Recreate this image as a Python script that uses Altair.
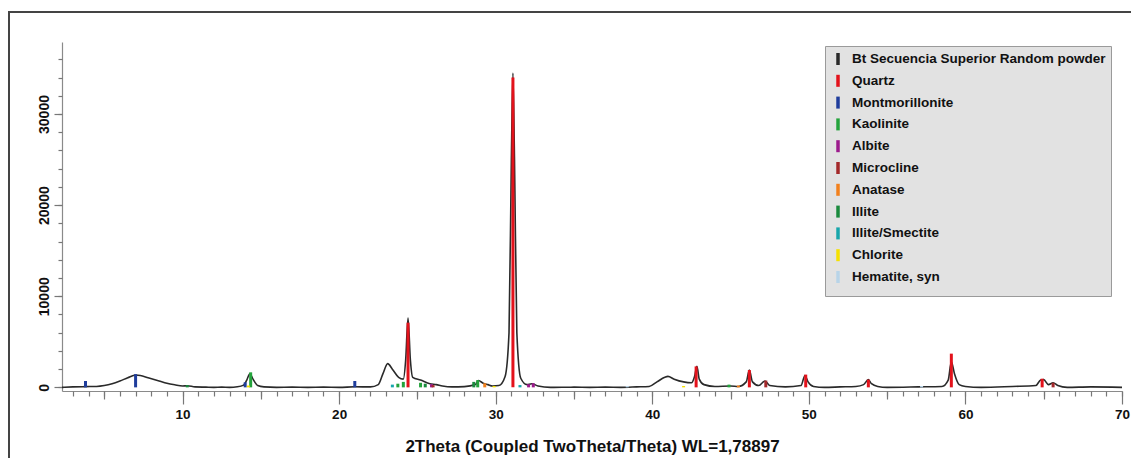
import altair as alt
import pandas as pd

# ---------------- data ----------------
two_theta = [2.3, 3.0, 3.8, 4.5, 5.0, 5.5, 6.0, 6.5, 7.0, 7.3, 7.8, 8.5, 9.0, 9.5, 10.0, 10.3,
             10.8, 11.5, 12.0, 12.5, 13.0, 13.5, 13.9, 14.1, 14.3, 14.5, 14.8, 15.2, 16.0, 17.0,
             18.0, 19.0, 20.0, 21.0, 22.0, 22.5, 22.8, 23.1, 23.4, 23.8, 24.1, 24.25, 24.4, 24.55,
             24.7, 25.2, 25.8, 26.2, 26.6, 27.2, 28.0, 28.7, 28.9, 29.2, 29.5, 29.8, 30.2, 30.6,
             30.85, 31.0, 31.1, 31.2, 31.35, 31.6, 32.0, 32.3, 32.7, 33.5, 35.0, 36.0, 37.0, 38.0,
             39.0, 39.8, 40.3, 40.8, 41.0, 41.4, 42.0, 42.5, 42.7, 42.85, 43.0, 43.3, 44.0, 45.0,
             45.5, 46.0, 46.2, 46.4, 46.8, 47.2, 47.5, 48.5, 49.5, 49.75, 49.95, 50.3, 51.0, 52.0,
             53.0, 53.5, 53.8, 54.0, 54.4, 55.0, 57.0, 58.5, 58.9, 59.1, 59.3, 59.6, 60.0, 61.0,
             63.0, 64.5, 64.8, 65.0, 65.3, 65.6, 65.9, 66.5, 68.0, 70.0]
intensity = [0, 50, 80, 100, 200, 400, 700, 1050, 1350, 1300, 1050, 700, 450, 280, 150, 180,
             50, 20, 0, 30, 0, 60, 250, 800, 1500, 900, 200, 50, 0, 20,
             0, 20, 0, 60, 50, 300, 1500, 2600, 2000, 1100, 900, 3000, 7600, 3000,
             1100, 800, 400, 300, 150, 50, 80, 300, 750, 450, 300, 150, 200, 1200,
             6000, 25000, 34500, 25000, 6000, 1000, 300, 400, 150, 0, 20, 0, 30, 0,
             50, 100, 600, 1100, 1200, 900, 600, 500, 1200, 2300, 900, 300, 100, 150,
             100, 600, 1900, 600, 200, 700, 200, 50, 200, 1300, 600, 100, 0, 50,
             100, 300, 850, 400, 100, 0, 50, 100, 800, 2800, 1500, 300, 100, 0,
             100, 200, 800, 850, 300, 500, 200, 0, 50, 0]

series_names = ["Bt Secuencia Superior Random powder", "Quartz", "Montmorillonite", "Kaolinite",
                "Albite", "Microcline", "Anatase", "Illite", "Illite/Smectite", "Chlorite",
                "Hematite, syn"]
series_colors = ["#2a2a2a", "#e3121b", "#1f3d9c", "#24a33c", "#9c1a8c", "#a3282a",
                 "#f2801c", "#1a8a3d", "#17a6ab", "#f5e100", "#b8d4e8"]

quartz_pos = [24.4, 31.1, 42.8, 46.2, 49.8, 53.8, 59.1, 64.9]
quartz_h = [7100, 34000, 2300, 1900, 1400, 850, 3700, 950]
montmorillonite_pos = [3.8, 7.0, 14.0, 21.0]
montmorillonite_h = [700, 1450, 550, 700]
kaolinite_pos = [14.35, 23.75, 24.1, 25.2, 28.85, 44.9]
kaolinite_h = [1650, 400, 600, 500, 800, 300]
albite_pos = [25.9, 32.1, 32.4]
albite_h = [350, 350, 450]
microcline_pos = [26.0, 47.25, 65.6]
microcline_h = [250, 750, 500]
anatase_pos = [29.3, 45.5]
anatase_h = [450, 200]
illite_pos = [10.3, 25.5, 28.6]
illite_h = [250, 400, 600]
illite_smectite_pos = [23.4, 31.55]
illite_smectite_h = [300, 250]
chlorite_pos = [14.2, 29.9, 42.0]
chlorite_h = [200, 150, 150]
hematite_pos = [38.4, 57.2]
hematite_h = [150, 150]

phases = [
    ("Quartz", quartz_pos, quartz_h),
    ("Montmorillonite", montmorillonite_pos, montmorillonite_h),
    ("Kaolinite", kaolinite_pos, kaolinite_h),
    ("Albite", albite_pos, albite_h),
    ("Microcline", microcline_pos, microcline_h),
    ("Anatase", anatase_pos, anatase_h),
    ("Illite", illite_pos, illite_h),
    ("Illite/Smectite", illite_smectite_pos, illite_smectite_h),
    ("Chlorite", chlorite_pos, chlorite_h),
    ("Hematite, syn", hematite_pos, hematite_h),
]

x_major_ticks = [10, 20, 30, 40, 50, 60, 70]
x_mid_ticks = [5, 15, 25, 35, 45, 55, 65]
x_minor_ticks = list(range(3, 71))
y_major_ticks = [0, 10000, 20000, 30000]
y_minor_ticks = list(range(0, 38000, 2000))
x_title = "2Theta (Coupled TwoTheta/Theta) WL=1,78897"

# ---------------- tables ----------------
pattern = pd.DataFrame({"tt": two_theta, "counts": intensity, "series": series_names[0]})
rows = []
for name, pos, hts in phases:
    for p, h in zip(pos, hts):
        rows.append({"tt": p, "counts": h, "series": name})
peaks = pd.DataFrame(rows)

FONT = "Liberation Sans, Arial, sans-serif"
TICK = "#777"

xscale = alt.Scale(domain=[2.3, 70], nice=False, zero=False)
yscale = alt.Scale(domain=[-400, 37900], nice=False, zero=False)
cscale = alt.Scale(domain=series_names, range=series_colors)

x_major = alt.Axis(
    orient="bottom", values=x_major_ticks, format="d",
    title=x_title,
    titleFont=FONT, titleFontSize=17, titleFontWeight="bold", titleColor="#111",
    titleBaseline="alphabetic", titleY=60,
    labelFont=FONT, labelFontSize=13.5, labelFontWeight="bold", labelColor="#111",
    labelFlush=False, labelOverlap=False, labelPadding=3,
    tickSize=13, tickColor=TICK, domainColor="#8a8a8a", domainWidth=1.2, tickWidth=1.2,
    grid=False,
)
x_minor = alt.Axis(
    orient="bottom", values=x_minor_ticks, title=None, labels=False, domain=False,
    tickSize=5, tickColor=TICK, tickWidth=1.2, grid=False,
)
x_mid = alt.Axis(
    orient="bottom", values=x_mid_ticks, title=None, labels=False, domain=False,
    tickSize=8, tickColor=TICK, tickWidth=1.2, grid=False,
)
y_major = alt.Axis(
    orient="left", values=y_major_ticks, title=None, format="d",
    labelAngle=270, labelAlign="center", labelBaseline="bottom",
    labelFont=FONT, labelFontSize=14, labelFontWeight="bold", labelColor="#111",
    labelFlush=False, labelOverlap=False, labelPadding=3,
    tickSize=8, tickColor=TICK, domainColor="#8a8a8a", domainWidth=1.2, tickWidth=1.2,
    grid=False,
)
y_minor = alt.Axis(
    orient="left", values=y_minor_ticks, title=None, labels=False, domain=False,
    tickSize=4, tickColor=TICK, tickWidth=1.2, grid=False,
)
legend = alt.Legend(
    orient="none", legendX=763, legendY=4, title=None,
    fillColor="#e2e2e2", strokeColor="#9a9a9a", padding=5,
    symbolType="M0,-1L0,1", symbolSize=144, symbolStrokeWidth=3.5,
    labelFont=FONT, labelFontSize=13.5,
    labelFontWeight="bold", labelColor="#111",
    rowPadding=-4.2, labelOffset=6, labelLimit=400,
)

line = alt.Chart(pattern).mark_line(strokeWidth=1.6, interpolate="monotone").encode(
    x=alt.X("tt:Q", scale=xscale, axis=x_major),
    y=alt.Y("counts:Q", scale=yscale, axis=y_major),
    color=alt.Color("series:N", scale=cscale, legend=legend),
)
sticks = alt.Chart(peaks).mark_rule(strokeWidth=3).encode(
    x=alt.X("tt:Q", scale=xscale, axis=x_minor),
    y=alt.Y("counts:Q", scale=yscale, axis=y_minor),
    y2=alt.datum(0),
    color=alt.Color("series:N", scale=cscale, legend=legend),
)
mid_ticks = alt.Chart(pattern).mark_point(opacity=0).encode(
    x=alt.X("tt:Q", scale=xscale, axis=x_mid),
    y=alt.Y("counts:Q", scale=yscale, axis=None),
)
frame_src = pd.DataFrame({"k": [0]})
frame_top = alt.Chart(frame_src).mark_rule(color="#444", strokeWidth=2, clip=False).encode(
    x=alt.value(-54), x2=alt.value(1080), y=alt.value(-30)
)
frame_left = alt.Chart(frame_src).mark_rule(color="#444", strokeWidth=2, clip=False).encode(
    x=alt.value(-53), y=alt.value(-31), y2=alt.value(430)
)

chart = alt.layer(line, sticks, mid_ticks, frame_top, frame_left).resolve_axis(
    x="independent", y="independent"
).properties(
    width=1060, height=349,
    padding={"left": 54, "top": 34, "right": 9, "bottom": 67},
    autosize=alt.AutoSizeParams(type="none"),
    background="white",
).configure_view(strokeOpacity=0, strokeWidth=0)

chart.save("out.html", embed_options={"renderer": "svg", "actions": False})
